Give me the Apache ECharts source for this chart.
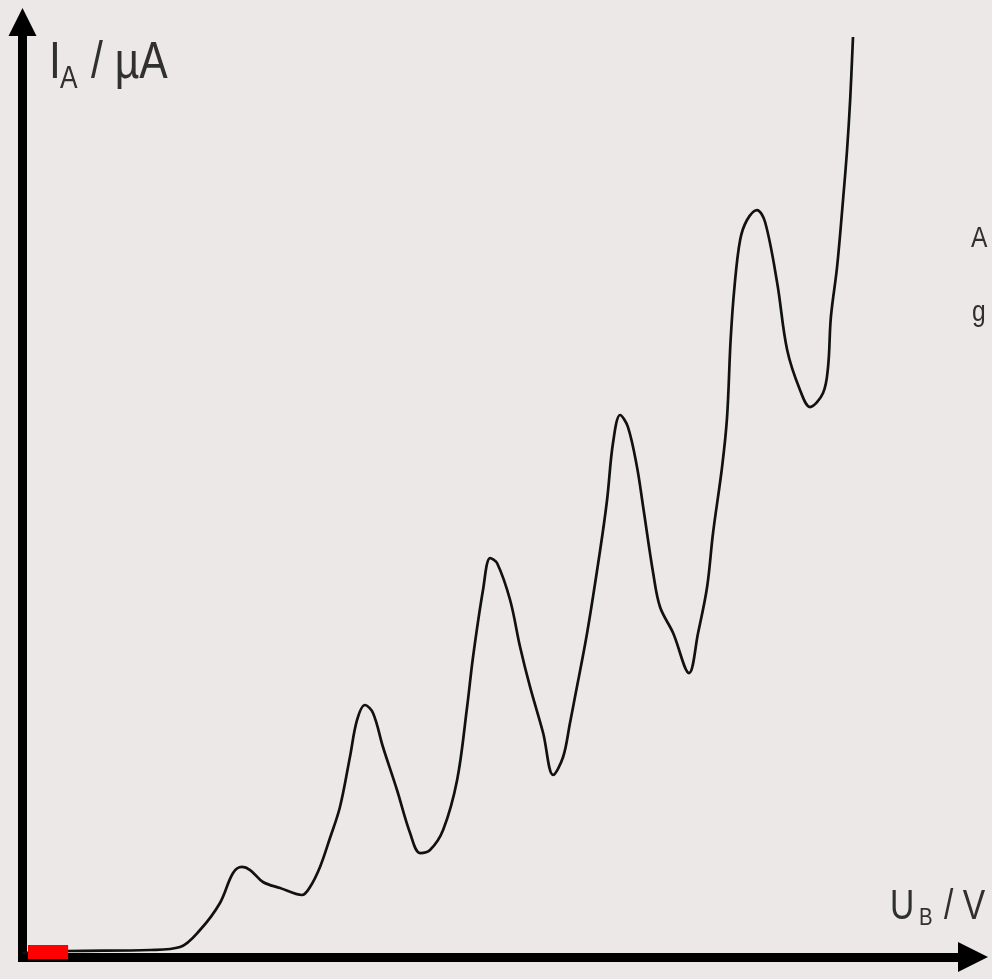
<!DOCTYPE html>
<html>
<head>
<meta charset="utf-8">
<script src="https://cdn.jsdelivr.net/npm/echarts@6/dist/echarts.min.js"></script>
<style>
html,body{margin:0;padding:0;background:#ede8e8;}
#chart{width:992px;height:979px;}
</style>
</head>
<body>
<div id="chart"></div>
<script>
// Accelerating voltage U_B (V, arbitrary scale) and anode current I_A (µA, arbitrary scale)
var voltage = [0, 1.91, 5.37, 6.63, 7.47, 8.31, 8.86, 9.24, 9.58, 10.12, 10.84, 11.76, 12.10, 12.52, 12.94, 13.36, 13.78, 14.08, 14.41, 14.75, 15.17, 15.76, 16.31, 16.73, 17.15, 17.70, 18.29, 18.71, 18.96, 19.38, 19.68, 19.97, 20.52, 20.94, 21.36, 21.91, 22.33, 22.75, 23.04, 23.25, 23.76, 24.31, 24.60, 24.85, 25.15, 25.48, 25.86, 26.12, 26.54, 26.83, 27.38, 28.05, 28.43, 28.81, 29.06, 29.44, 29.65, 29.80, 29.96, 30.20, 30.49, 30.91, 31.25, 31.76, 32.18, 32.72, 33.14, 33.69, 33.90, 34.02, 34.28, 34.53, 34.70, 34.83, 34.95];
var current = [0.43, 0.64, 0.75, 1.07, 2.89, 5.78, 8.98, 9.63, 9.30, 8.02, 7.38, 6.63, 7.49, 9.63, 12.73, 16.04, 21.39, 25.35, 26.95, 26.10, 22.46, 17.86, 13.26, 11.12, 11.44, 13.58, 18.93, 26.74, 32.09, 39.25, 42.67, 42.14, 38.18, 33.16, 28.88, 23.96, 19.47, 21.39, 25.03, 27.81, 34.65, 43.53, 48.88, 54.97, 57.97, 56.68, 52.41, 48.13, 41.07, 37.43, 34.65, 30.37, 34.65, 39.57, 45.35, 52.41, 57.75, 66.00, 71.60, 76.68, 78.82, 79.89, 78.61, 72.09, 64.92, 60.64, 58.82, 60.32, 63.10, 68.45, 73.80, 80.96, 86.31, 91.66, 98.40];
// red marker near the origin: [x0, x1, y0, y1]
var marker = [0.23, 1.92, -0.21, 1.28];
// axis range
var xRange = [0, 40];
var yRange = [0, 100];
// texts
var yLabelMain = 'I', yLabelSub = 'A', yLabelRest = '/ µA';
var xLabelMain = 'U', xLabelSub = 'B', xLabelRest = '/ V';
var sideTexts = ['A', 'g'];

var points = voltage.map(function (v, i) { return [v, current[i]]; });

var chart = echarts.init(document.getElementById('chart'), null, {renderer: 'canvas'});
var FONT = '"Liberation Sans", Arial, sans-serif';
var TXT = '#303030';
var arrow = 'path://M14,0 L28,28 L0,28 Z';

function txt(text, x, y, size, sx) {
  return {
    type: 'text', x: x, y: y, scaleX: sx, silent: true,
    style: {text: text, x: 0, y: 0, fill: TXT, font: size + 'px ' + FONT, align: 'left', verticalAlign: 'middle'}
  };
}

chart.setOption({
  backgroundColor: '#ede8e8',
  animation: false,
  grid: {left: 22.5, right: 19, top: 22, bottom: 22},
  xAxis: {
    type: 'value', min: xRange[0], max: xRange[1],
    axisLine: {show: true, onZero: false, symbol: ['none', arrow], symbolSize: [30, 30],
      lineStyle: {color: '#000', width: 9, cap: 'square'}},
    axisTick: {show: false}, axisLabel: {show: false}, splitLine: {show: false}
  },
  yAxis: {
    type: 'value', min: yRange[0], max: yRange[1],
    axisLine: {show: true, onZero: false, symbol: ['none', arrow], symbolSize: [28, 28],
      lineStyle: {color: '#000', width: 9, cap: 'square'}},
    axisTick: {show: false}, axisLabel: {show: false}, splitLine: {show: false}
  },
  series: [{
    type: 'line',
    data: points,
    smooth: 0.35,
    symbol: 'none',
    z: 3,
    lineStyle: {color: '#111', width: 2.7}
  }, {
    type: 'custom',
    z: 5,
    silent: true,
    clip: false,
    data: [marker],
    renderItem: function (params, api) {
      var p0 = api.coord([api.value(0), api.value(3)]);
      var p1 = api.coord([api.value(1), api.value(2)]);
      return {type: 'rect', shape: {x: p0[0], y: p0[1], width: p1[0] - p0[0], height: p1[1] - p0[1]},
        style: {fill: '#ff0000'}};
    }
  }],
  graphic: [
    txt(yLabelMain, 49, 64, 52, 0.82),
    txt(yLabelSub, 60, 79, 31, 0.85),
    txt(yLabelRest, 91, 64, 52, 0.82),
    txt(xLabelMain, 890, 907, 42, 0.8),
    txt(xLabelSub, 919, 918, 24, 0.85),
    txt(xLabelRest, 944, 907, 42, 0.8),
    txt(sideTexts[0], 971, 239, 30, 0.82),
    txt(sideTexts[1], 972, 313, 30, 0.82)
  ]
});
</script>
</body>
</html>
